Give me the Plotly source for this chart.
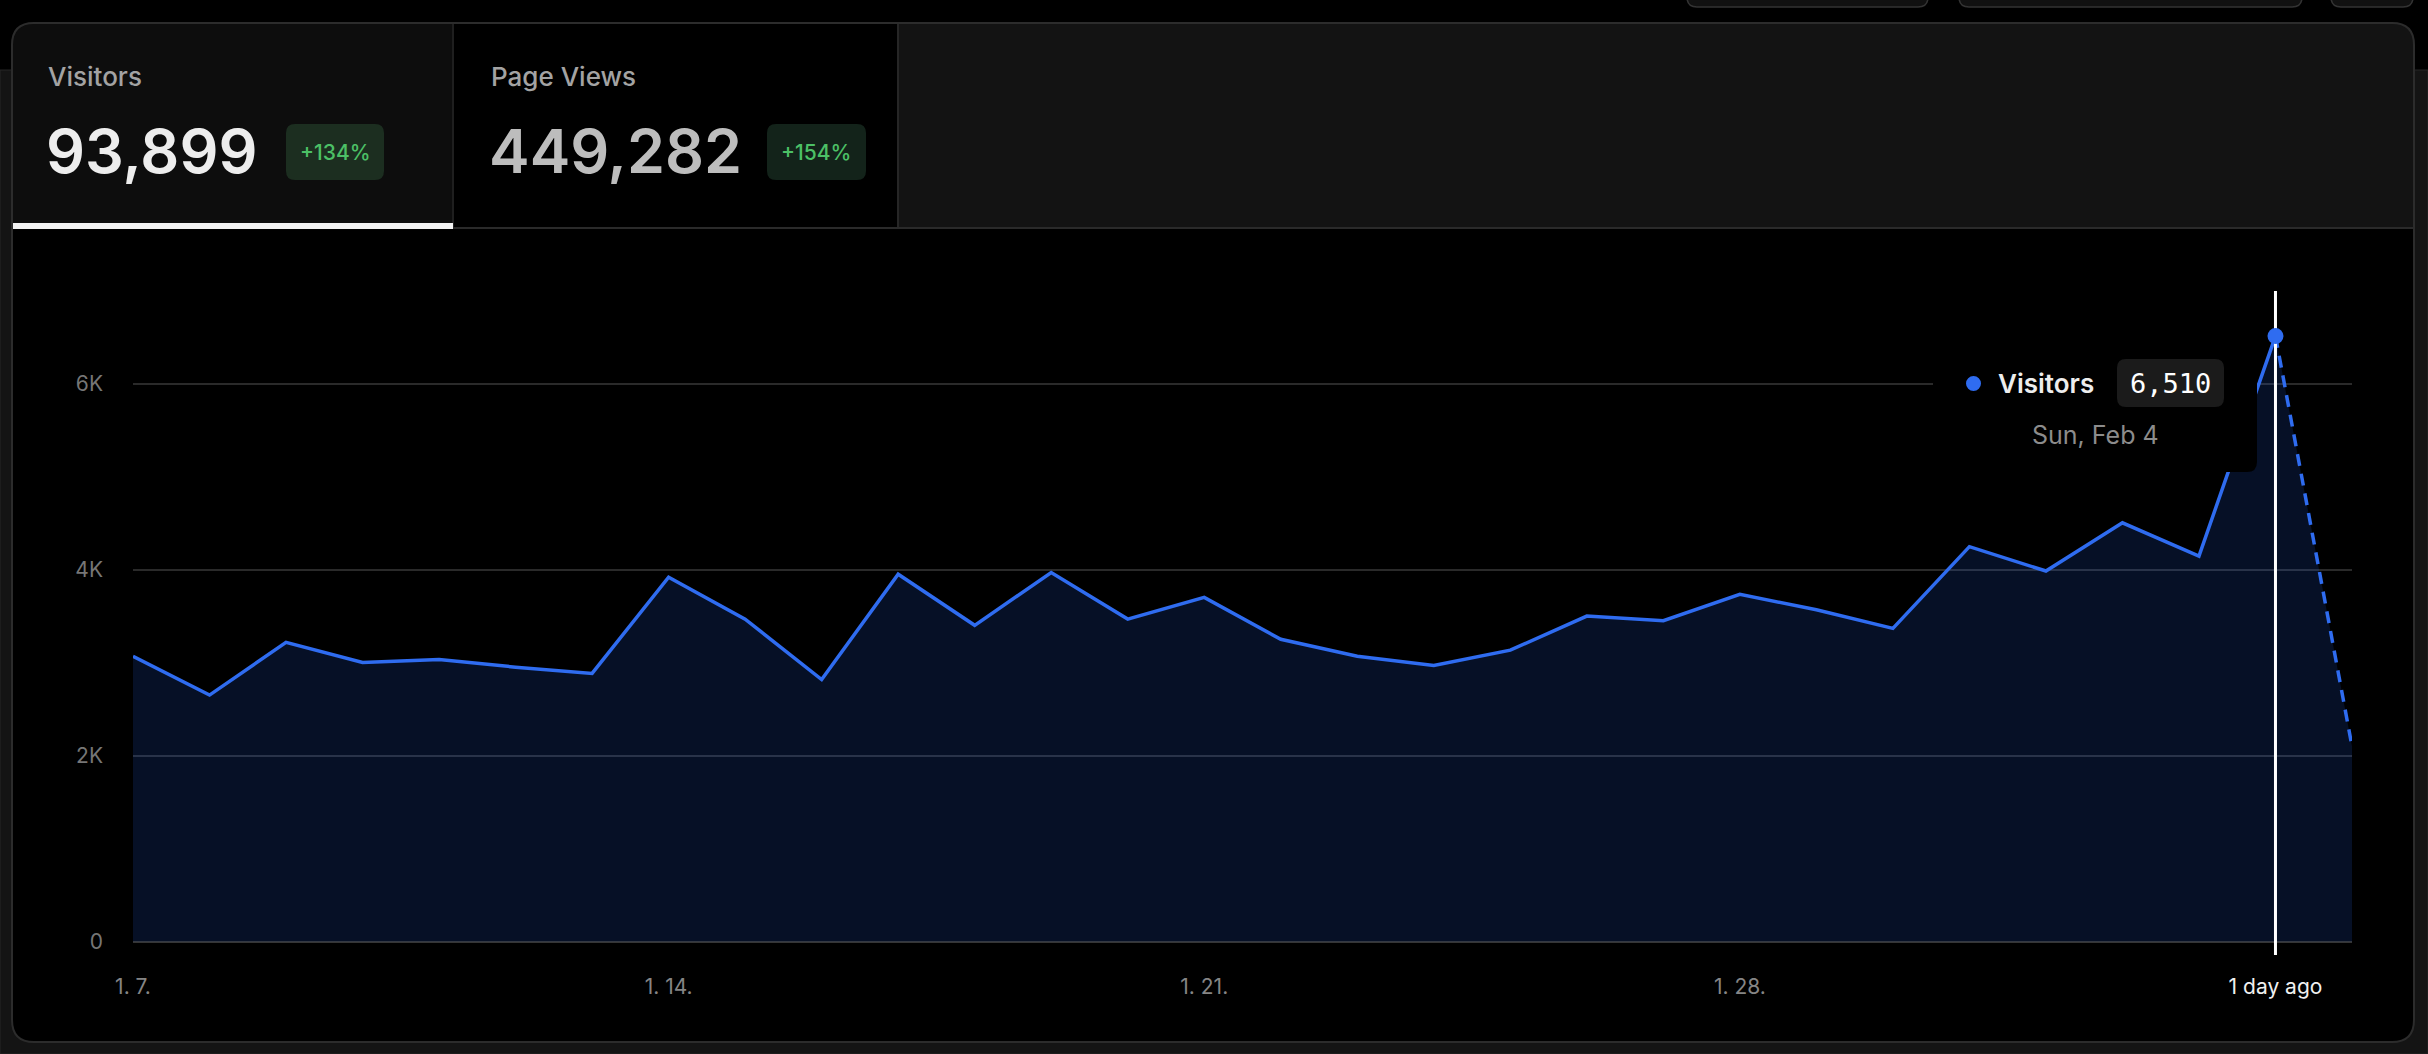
import plotly.graph_objects as go
import pandas as pd

W, H = 2428, 1054

# ---------------- data ----------------
dates = pd.date_range("2024-01-07", "2024-02-05", freq="D").strftime("%Y-%m-%d").tolist()
visitors = [3067, 2650, 3217, 3000, 3033, 2950, 2883, 3917, 3467, 2817,
            3950, 3400, 3967, 3467, 3700, 3250, 3067, 2967, 3133, 3500,
            3450, 3733, 3567, 3367, 4246, 3984, 4502, 4144, 6510, 2099]
tick_dates = ["2024-01-07", "2024-01-14", "2024-01-21", "2024-01-28", "2024-02-04"]
tick_labels = ["1. 7.", "1. 14.", "1. 21.", "1. 28.", '<span style="color:#f0f0f0">1 day ago</span>']
y_ticks = [0, 2000, 4000, 6000]
y_tick_labels = ["0", "2K", "4K", "6K"]
highlight_index = 28
highlight_label = "Sun, Feb 4"
series_name = "Visitors"
metric_names = ["Visitors", "Page Views"]
metric_totals = ["93,899", "449,282"]
metric_changes = ["+134%", "+154%"]

# ---------------- styles ----------------
BLUE = "#2f6cf0"
FILL = "rgba(37,99,235,0.16)"
FONT = "Inter"
MONO = "DejaVu Sans Mono"


def X(px):
    return px / W


def Y(py):
    return 1 - py / H


def rpath(x0, y0, x1, y1, r=(0, 0, 0, 0)):
    """rounded rect in pixel coords -> paper path. r = (tl, tr, br, bl)"""
    tl, tr, br, bl = r
    s = f"M{X(x0 + tl)},{Y(y0)} L{X(x1 - tr)},{Y(y0)} "
    if tr:
        s += f"Q{X(x1)},{Y(y0)} {X(x1)},{Y(y0 + tr)} "
    s += f"L{X(x1)},{Y(y1 - br)} "
    if br:
        s += f"Q{X(x1)},{Y(y1)} {X(x1 - br)},{Y(y1)} "
    s += f"L{X(x0 + bl)},{Y(y1)} "
    if bl:
        s += f"Q{X(x0)},{Y(y1)} {X(x0)},{Y(y1 - bl)} "
    s += f"L{X(x0)},{Y(y0 + tl)} "
    if tl:
        s += f"Q{X(x0)},{Y(y0)} {X(x0 + tl)},{Y(y0)} "
    s += "Z"
    return s


def pshape(path, fill, line="rgba(0,0,0,0)", lw=0, layer="below"):
    return dict(type="path", xref="paper", yref="paper", path=path,
                fillcolor=fill, line=dict(color=line, width=lw), layer=layer)


def rect(x0, y0, x1, y1, fill, line="rgba(0,0,0,0)", lw=0, layer="below"):
    return dict(type="rect", xref="paper", yref="paper", x0=X(x0), x1=X(x1),
                y0=Y(y1), y1=Y(y0), fillcolor=fill, line=dict(color=line, width=lw), layer=layer)


def ann(text, x, y, size, color, anchor="left", weight=400, family=FONT):
    return dict(text=text, x=X(x), y=Y(y), xref="paper", yref="paper", xanchor=anchor,
                yanchor="middle", showarrow=False,
                font=dict(family=family, size=size, color=color, weight=weight))


fig = go.Figure()

# area fill
fig.add_trace(go.Scatter(x=dates, y=visitors, mode="lines", fill="tozeroy",
                         fillcolor=FILL, line=dict(width=0), hoverinfo="skip"))
# solid line (complete days)
fig.add_trace(go.Scatter(x=dates[:highlight_index + 1], y=visitors[:highlight_index + 1],
                         mode="lines", line=dict(color=BLUE, width=3.5), hoverinfo="skip"))
# dashed line (partial day)
fig.add_trace(go.Scatter(x=dates[highlight_index:], y=visitors[highlight_index:],
                         mode="lines", line=dict(color=BLUE, width=3.5, dash="12px,8px"),
                         hoverinfo="skip"))

YMIN, YMAX = -145, 6995
# crosshair
fig.add_trace(go.Scatter(x=[dates[highlight_index]] * 2, y=[YMIN, YMAX], mode="lines",
                         line=dict(color="#ffffff", width=3), hoverinfo="skip"))
fig.add_trace(go.Scatter(x=[dates[highlight_index]], y=[visitors[highlight_index]],
                         mode="markers", marker=dict(color=BLUE, size=16),
                         cliponaxis=False, hoverinfo="skip"))

shapes = []
# page background panel
shapes.append(rect(0, 70, W, H, "#141414", "#262626", 1))
# top buttons (partially visible)
for bx0, bx1 in [(1687, 1928), (1959, 2302), (2331, 2413)]:
    shapes.append(pshape(rpath(bx0, -20, bx1, 7, (0, 0, 10, 10)), "#111111", "#333333", 1.5))
# card
shapes.append(pshape(rpath(12, 23, 2414, 1042, (22, 22, 22, 22)), "#000000"))
# header areas
shapes.append(pshape(rpath(12, 23, 453, 228, (22, 0, 0, 0)), "#0d0d0d"))
shapes.append(rect(453, 23, 898, 228, "#000000"))
shapes.append(pshape(rpath(898, 23, 2414, 228, (0, 22, 0, 0)), "#131313"))
shapes.append(rect(452, 23, 454, 228, "#1f1f1f"))
shapes.append(rect(897, 23, 899, 228, "#262626"))
shapes.append(rect(12, 227, 2414, 229, "#2a2a2a"))
shapes.append(rect(12, 223, 453, 229, "#f2f2f2"))
# card outline
shapes.append(pshape(rpath(12, 23, 2414, 1042, (22, 22, 22, 22)), "rgba(0,0,0,0)", "#2c2c2c", 2))
# badges
shapes.append(pshape(rpath(286, 124, 384, 180, (9, 9, 9, 9)), "#1c2e20"))
shapes.append(pshape(rpath(767, 124, 866, 180, (9, 9, 9, 9)), "#13231a"))

# tooltip
shapes.append(pshape(rpath(1933, 336, 2257, 472, (10, 10, 10, 10)), "#000000", layer="above"))
shapes.append(pshape(rpath(2117, 359, 2224, 407, (9, 9, 9, 9)), "#1b1b1b", layer="above"))
shapes.append(dict(type="circle", xref="paper", yref="paper", x0=X(1966), x1=X(1981),
                   y0=Y(391), y1=Y(376), fillcolor=BLUE, line=dict(width=0), layer="above"))

annotations = [
    ann(metric_names[0], 46, 76, 26, "#a3a3a3", weight=500),
    ann(metric_totals[0], 44, 151, 61, "#ededed", weight=600),
    ann(metric_changes[0], 335, 152, 21, "#4cc066", anchor="center", weight=500),
    ann(metric_names[1], 489, 76, 26, "#a3a3a3", weight=500),
    ann(metric_totals[1], 487, 151, 61, "#bdbdbd", weight=600),
    ann(metric_changes[1], 816, 152, 21, "#4cc066", anchor="center", weight=500),
    # tooltip text
    ann(series_name, 1996, 384, 26, "#ededed", weight=600),
    ann(f"{visitors[highlight_index]:,}", 2170, 383, 27, "#ffffff", anchor="center", family=MONO),
    ann(highlight_label, 2095, 435, 25, "#8c8c8c", anchor="center"),
]

fig.update_layout(
    width=W, height=H,
    margin=dict(l=0, r=0, t=0, b=0, autoexpand=False),
    paper_bgcolor="#000000",
    plot_bgcolor="rgba(0,0,0,0)",
    showlegend=False,
    hovermode=False,
    shapes=shapes,
    annotations=annotations,
    xaxis=dict(
        domain=[X(133), X(2352)],
        type="date",
        range=[dates[0], dates[-1]],
        tickvals=tick_dates, ticktext=tick_labels,
        showgrid=False, zeroline=False, showline=False,
        ticks="", ticklabelstandoff=17,
        tickfont=dict(family=FONT, size=21, color="#858585"),
        fixedrange=True,
    ),
    yaxis=dict(
        domain=[Y(955), Y(291)],
        range=[YMIN, YMAX],
        tickvals=y_ticks, ticktext=y_tick_labels,
        showgrid=True, gridcolor="#2a2a2a", gridwidth=1.5,
        zeroline=True, zerolinecolor="#353535", zerolinewidth=2,
        showline=False, ticks="", ticklabelstandoff=29,
        tickfont=dict(family=FONT, size=21, color="#767676"),
        fixedrange=True,
    ),
)

fig.write_html(
    "out.html",
    config={"displayModeBar": False},
    post_script="document.body.style.margin='0';document.body.style.background='#000';",
)
